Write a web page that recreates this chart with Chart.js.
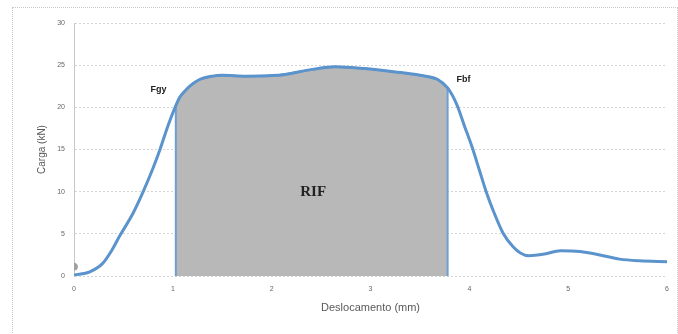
<!DOCTYPE html>
<html>
<head>
<meta charset="utf-8">
<script src="https://cdn.jsdelivr.net/npm/chart.js@4"></script>
<style>
  html, body { margin: 0; padding: 0; background: #fff; }
  #wrap { position: relative; width: 678px; height: 334px; }
  #frame { position: absolute; left: 12px; top: 7px; width: 664px; height: 330px; border: 1px dotted #c8c8c8; }
  canvas { position: absolute; left: 0; top: 0; }
</style>
</head>
<body>
<div id="wrap">
  <div id="frame"></div>
  <canvas id="chart" width="678" height="334"></canvas>
</div>
<script>
// deslocamento (mm) e carga (kN)
let deslocamento = [0, 0.16, 0.29, 0.38, 0.46, 0.6, 0.7, 0.8, 0.87, 0.95, 1.03, 1.07, 1.12, 1.18, 1.27, 1.4, 1.5, 1.74, 2.07, 2.41, 2.64, 2.94, 3.25, 3.5, 3.68, 3.78, 3.87, 3.95, 4.03, 4.1, 4.17, 4.25, 4.34, 4.44, 4.52, 4.6, 4.76, 4.92, 5.12, 5.32, 5.52, 5.72, 6]
let carga = [0.1, 0.5, 1.5, 3, 4.7, 7.5, 10, 12.8, 15, 17.8, 20.2, 21.2, 21.9, 22.6, 23.3, 23.7, 23.8, 23.7, 23.8, 24.5, 24.8, 24.6, 24.2, 23.8, 23.3, 22.3, 20.4, 17.8, 15.2, 12.6, 10, 7.5, 5.1, 3.5, 2.7, 2.4, 2.6, 3, 2.9, 2.5, 2, 1.8, 1.7]
// inicio e fim da area RIF
let rifInicio = 1.03
let rifFim = 3.78
let pontoInicial = [{ x: 0, y: 1.1 }]
let xTicks = [0, 1, 2, 3, 4, 5, 6]
let yTicks = [0, 5, 10, 15, 20, 25, 30]

let curva = deslocamento.map((x, i) => ({ x: x, y: carga[i] }))
let area = [{ x: rifInicio, y: 0 }]
    .concat(curva.filter(p => p.x >= rifInicio && p.x <= rifFim))
    .concat([{ x: rifFim, y: 0 }])

let rotulos = [
    { text: 'Fgy', x: 0.855, y: 22.1, font: 'bold 9px "Liberation Sans", Arial, sans-serif' },
    { text: 'Fbf', x: 3.94, y: 23.3, font: 'bold 9px "Liberation Sans", Arial, sans-serif' },
    { text: 'RIF', x: 2.42, y: 10, font: 'bold 15px "Liberation Serif", "Times New Roman", serif' }
]

let textos = {
    id: 'textos',
    afterDatasetsDraw(chart) {
        let c = chart.ctx
        c.save()
        c.fillStyle = '#222'
        c.textAlign = 'center'
        c.textBaseline = 'middle'
        rotulos.forEach(r => {
            c.font = r.font
            c.fillText(r.text, chart.scales.x.getPixelForValue(r.x), chart.scales.y.getPixelForValue(r.y))
        })
        c.restore()
    }
}

let ctx = document.getElementById('chart').getContext('2d')
let chart = new Chart(ctx, {
    type: 'scatter',
    data: {
        datasets: [{
            data: curva,
            showLine: true,
            borderColor: '#5b93cc',
            borderWidth: 3,
            pointRadius: 0,
            cubicInterpolationMode: 'monotone',
            order: 1
        }, {
            data: area,
            showLine: true,
            fill: 'origin',
            backgroundColor: '#b8b8b8',
            borderColor: '#6f9fd0',
            borderWidth: 2,
            pointRadius: 0,
            tension: 0,
            order: 2
        }, {
            data: pontoInicial,
            pointRadius: 3.5,
            pointBackgroundColor: '#a0a0a0',
            pointBorderColor: '#a0a0a0',
            order: 0
        }]
    },
    plugins: [textos],
    options: {
        responsive: false,
        animation: false,
        layout: { padding: { left: 0, right: 8, top: 23, bottom: 0 } },
        plugins: { legend: { display: false }, tooltip: { enabled: false } },
        scales: {
            x: {
                type: 'linear',
                min: 0,
                max: 6,
                afterBuildTicks: s => { s.ticks = xTicks.map(v => ({ value: v })) },
                afterFit: s => { s.height = 58 },
                grid: { display: false, drawTicks: false },
                border: { display: false },
                ticks: { padding: 9, color: '#666', font: { size: 7 } },
                title: {
                    display: true,
                    text: 'Deslocamento (mm)',
                    color: '#595959',
                    font: { size: 11 },
                    padding: { top: 0, bottom: 19 }
                }
            },
            y: {
                min: 0,
                max: 30,
                afterBuildTicks: s => { s.ticks = yTicks.map(v => ({ value: v })) },
                afterFit: s => { s.width = 74 },
                grid: { color: '#d4d4d4', drawTicks: false },
                border: { display: true, color: '#c8c8c8', dash: [2, 2] },
                ticks: { padding: 9, color: '#666', font: { size: 7 } },
                title: {
                    display: true,
                    text: 'Carga (kN)',
                    color: '#595959',
                    font: { size: 10 },
                    padding: { top: 36, bottom: 0 }
                }
            }
        }
    }
})
</script>
</body>
</html>
